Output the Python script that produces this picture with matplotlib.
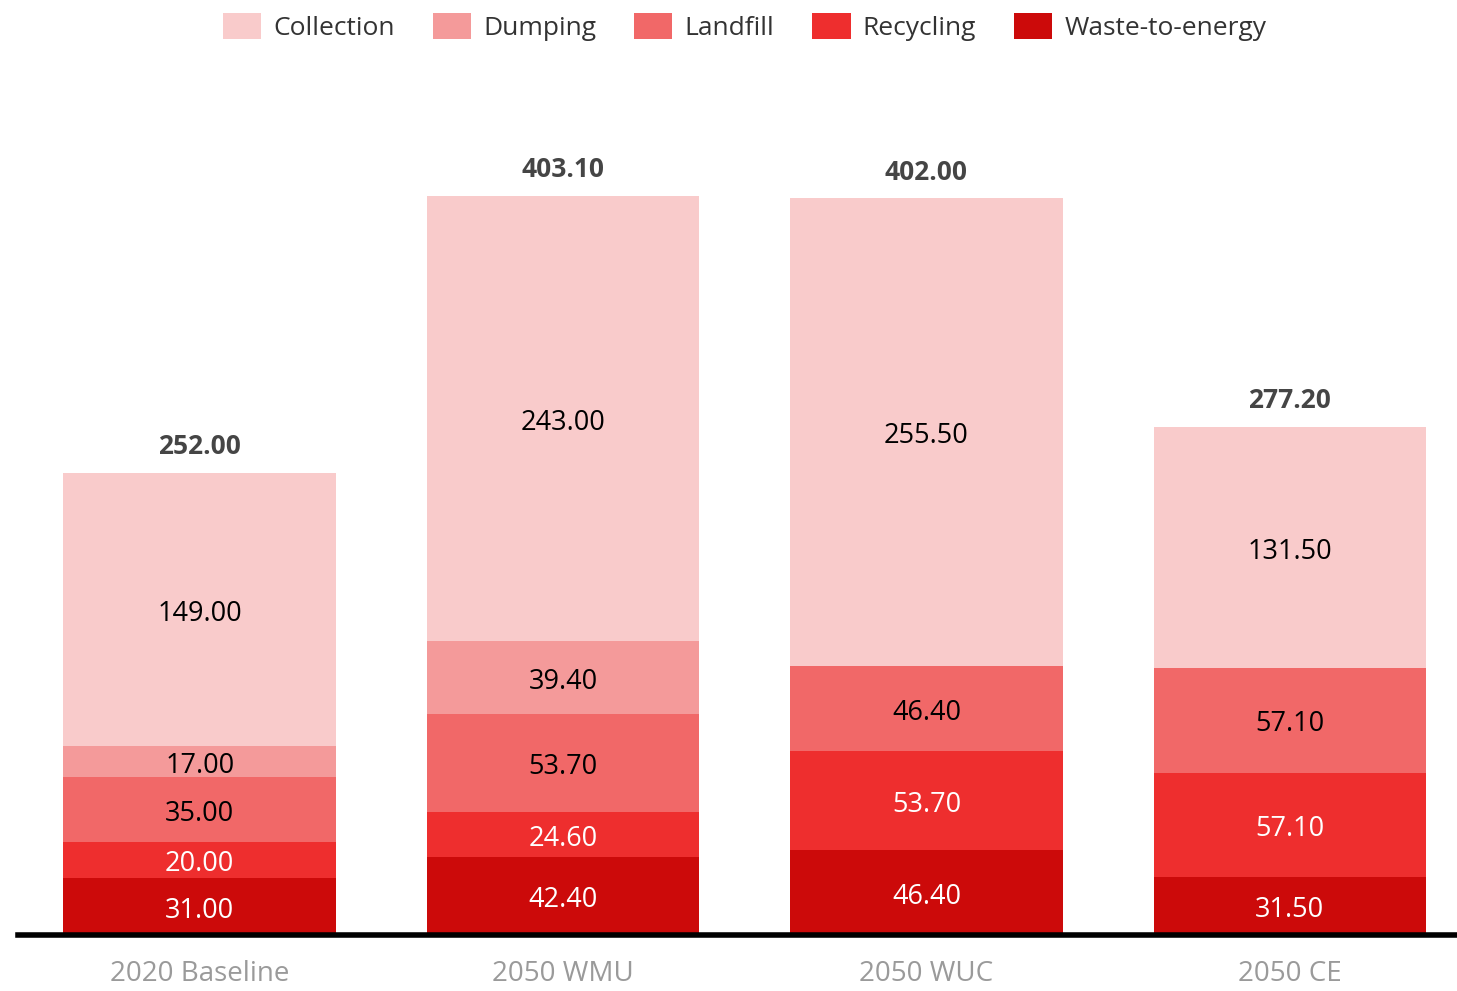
import matplotlib
matplotlib.use("Agg")
import matplotlib.pyplot as plt
import numpy as np

categories = ["2020 Baseline", "2050 WMU", "2050 WUC", "2050 CE"]
series_names = ["Collection", "Dumping", "Landfill", "Recycling", "Waste-to-energy"]
waste_to_energy = [31.00, 42.40, 46.40, 31.50]
recycling = [20.00, 24.60, 53.70, 57.10]
landfill = [35.00, 53.70, 46.40, 57.10]
dumping = [17.00, 39.40, 0.0, 0.0]
collection = [149.00, 243.00, 255.50, 131.50]
totals = [252.00, 403.10, 402.00, 277.20]

colors = {
    "Collection": "#f9cbcb",
    "Dumping": "#f49a9a",
    "Landfill": "#f16868",
    "Recycling": "#ee2e2e",
    "Waste-to-energy": "#cc0a0a",
}
text_colors = {
    "Collection": "black",
    "Dumping": "black",
    "Landfill": "black",
    "Recycling": "white",
    "Waste-to-energy": "white",
}

plt.rcParams['font.family'] = ['Open Sans', 'DejaVu Sans']

W, H = 1457, 991
fig = plt.figure(figsize=(W / 100, H / 100), dpi=100)
base_px = 935
top_px = 110
ymax = 450
ax = fig.add_axes([18 / W, 1 - base_px / H, 1 - 18 / W, (base_px - top_px) / H])

x = np.arange(len(categories))
stack_order = [("Waste-to-energy", waste_to_energy), ("Recycling", recycling),
               ("Landfill", landfill), ("Dumping", dumping), ("Collection", collection)]
bottom = np.zeros(len(categories))
handles = {}
for name, vals in stack_order:
    vals = np.array(vals, dtype=float)
    bars = ax.bar(x, vals, width=0.75, bottom=bottom, color=colors[name], label=name, zorder=2)
    handles[name] = bars
    for xi, b, v in zip(x, bottom, vals):
        if v > 0:
            ax.annotate(f"{v:.2f}", (xi, b + v / 2), xytext=(0, -3),
                        textcoords="offset points", ha="center", va="center",
                        fontsize=19.5, color=text_colors[name], zorder=3)
    bottom += vals

for xi, t in zip(x, totals):
    ax.annotate(f"{t:.2f}", (xi, t), xytext=(0, 9), textcoords="offset points",
                ha="center", va="bottom", fontsize=19,
                fontweight="bold", color="#454545")

ax.set_xlim(-0.5, 3.46)
ax.set_ylim(0, ymax)
for s in ["top", "right", "left"]:
    ax.spines[s].set_visible(False)
ax.spines["bottom"].set_linewidth(4)
ax.spines["bottom"].set_color("black")
ax.set_yticks([])
ax.set_xticks(x)
ax.set_xticklabels(categories, fontsize=20, color="#9a9a9a")
ax.tick_params(axis="x", length=0, pad=18)

leg = fig.legend([handles[n] for n in series_names], series_names, loc="center",
                 bbox_to_anchor=(0.511, 1 - 27 / H), ncol=5, frameon=False,
                 fontsize=19, handlelength=1.45, handleheight=1.15, columnspacing=1.45,
                 handletextpad=0.45, labelcolor="#333333")

fig.savefig("out.png", dpi=100, facecolor="white")
